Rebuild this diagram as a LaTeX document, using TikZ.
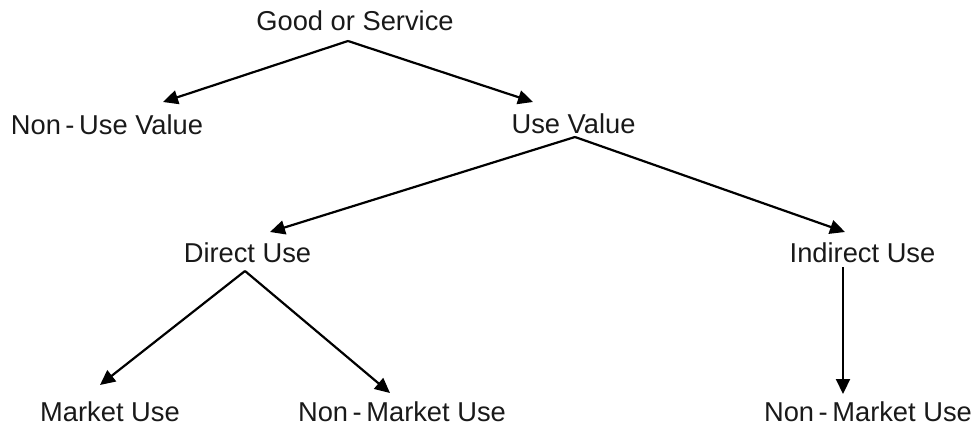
\documentclass[tikz,border=0pt]{standalone}
\usepackage{fontspec}
\setmainfont{Liberation Sans}
\usetikzlibrary{arrows.meta,calc}
\begin{document}
\begin{tikzpicture}[x=1pt,y=-1pt,
  lbl/.style={anchor=base,inner sep=0pt,outer sep=0pt,text height=20pt,text depth=0pt,
    font=\fontsize{27.3}{31}\selectfont,text=black!90},
  arr/.style={line width=2.2pt,-{Triangle[length=15pt,width=14pt]}}]
\useasboundingbox (0,0) rectangle (975,425);
\node[lbl] (g) at (355,31) {Good or Service};
\node[lbl] (nuv) at (107,135) {Non\,-\,Use Value};
\node[lbl] (uv) at (573.5,134) {Use Value};
\node[lbl] (du) at (247.5,262) {Direct Use};
\node[lbl] (iu) at (862.5,262) {Indirect Use};
\node[lbl] (mu) at (110,421) {Market Use};
\node[lbl] (nmu1) at (402,421) {Non\,-\,Market Use};
\node[lbl] (nmu2) at (868,421) {Non\,-\,Market Use};
\draw[arr] ($(g.south)+(-7,10)$) -- ($(nuv.north)+(56,-13)$);
\draw[arr] ($(g.south)+(-7,10)$) -- ($(uv.north)+(-40.5,-12)$);
\draw[arr] ($(uv.south)+(1.5,3)$) -- ($(du.north)+(22.5,-10)$);
\draw[arr] ($(uv.south)+(1.5,3)$) -- ($(iu.north)+(-17.5,-10)$);
\draw[arr] ($(du.south)+(-2.5,9)$) -- ($(mu.north)+(-10,-16)$);
\draw[arr] ($(du.south)+(-2.5,9)$) -- ($(nmu1.north)+(-12,-8)$);
\draw[arr] ($(iu.south)+(-19.5,5)$) -- ($(nmu2.north)+(-25,-7)$);
\end{tikzpicture}
\end{document}
